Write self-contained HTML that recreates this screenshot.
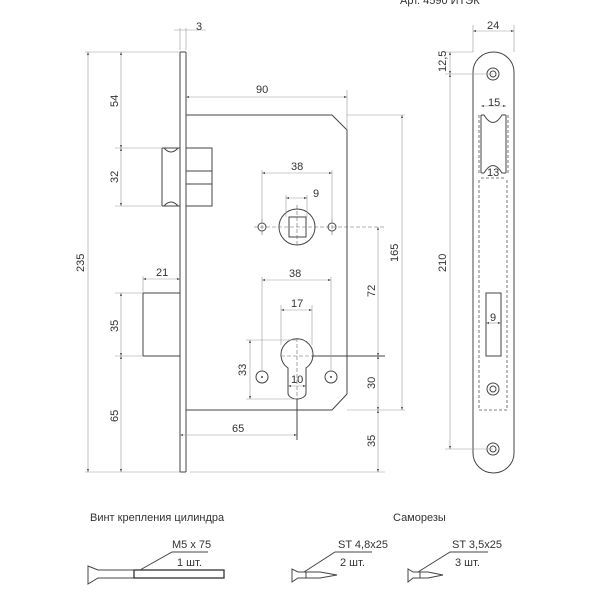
<!DOCTYPE html>
<html><head><meta charset="utf-8"><style>
html,body{margin:0;padding:0;background:#fff}
svg{display:block}
text{font-family:"Liberation Sans",sans-serif;fill:#333;font-size:11px}
.l{stroke:#444;stroke-width:1;fill:none}
.t{stroke:#999;stroke-width:0.6;fill:none}
.d{stroke:#555;stroke-width:0.8;fill:none;stroke-dasharray:3 2}
.c{stroke:#666;stroke-width:0.6;fill:none;stroke-dasharray:4 2}
</style></head><body>
<svg width="600" height="600" viewBox="0 0 600 600">
<defs>
<marker id="a" viewBox="0 0 6 6" refX="6" refY="3" markerWidth="5" markerHeight="5" orient="auto-start-reverse"><path d="M0,1 L6,3 L0,5z" fill="#444"/></marker>
</defs>
<text x="400" y="4" font-size="13">Арт. 4590 ИТЭК</text>
<!-- faceplate side view -->
<path class="l" d="M180,52 L180,472 M186,52 L186,472 M180,52 L186,52 M180,472 L186,472"/>
<line class="t" x1="85" y1="52" x2="180" y2="52"/>
<line class="t" x1="85" y1="472" x2="180" y2="472"/>
<line class="t" x1="190" y1="472" x2="385" y2="472"/>
<!-- 3 dim -->
<path class="t" d="M180,28 L180,50 M186,28 L186,50 M174,30 L206,30"/>
<text x="196" y="30" font-size="8">3</text>
<!-- case -->
<path class="l" d="M186,115 L332,115 L347,130 L347,394 L332,410 L186,410"/>
<path class="t" d="M347,90 L347,130 M347,115 L405,115 M347,410 L405,410"/>
<line class="t" x1="186" y1="97" x2="347" y2="97" marker-start="url(#a)" marker-end="url(#a)"/>
<text x="256" y="93">90</text>
<line class="t" x1="402" y1="115" x2="402" y2="410" marker-start="url(#a)" marker-end="url(#a)"/>
<text transform="translate(398,262) rotate(-90)">165</text>
<!-- latch -->
<path class="l" d="M162,148 L180,148 M162,206 L180,206 M162,148 L162,206"/>
<path class="l" d="M164,148 Q171,156 178,148 M164,206 Q171,198 178,206" stroke-width="0.7"/>
<rect class="l" x="186" y="148" width="26" height="58"/>
<path class="l" d="M186,171 L212,171 M186,184 L212,184"/>
<path class="t" d="M115,148 L162,148 M115,206 L162,206"/>
<line class="t" x1="121" y1="52" x2="121" y2="148" marker-start="url(#a)" marker-end="url(#a)"/>
<line class="t" x1="121" y1="148" x2="121" y2="206" marker-start="url(#a)" marker-end="url(#a)"/>
<text transform="translate(118,107) rotate(-90)">54</text>
<text transform="translate(118,183) rotate(-90)">32</text>
<line class="t" x1="88" y1="52" x2="88" y2="472" marker-start="url(#a)" marker-end="url(#a)"/>
<text transform="translate(84,272) rotate(-90)">235</text>
<!-- upper holes & spindle -->
<circle class="l" cx="262" cy="227" r="4"/>
<circle class="l" cx="332" cy="227" r="4"/>
<circle class="l" cx="297" cy="227" r="18"/>
<rect class="l" x="289" y="217" width="17" height="20"/>
<path class="c" d="M254,227 L385,227 M297,205 L297,245 M262,219 L262,235 M332,219 L332,235"/>
<path class="t" d="M262,170 L262,223 M332,170 L332,223 M286,195 L286,217 M307,195 L307,217"/>
<line class="t" x1="262" y1="173" x2="332" y2="173" marker-start="url(#a)" marker-end="url(#a)"/>
<text x="291" y="170">38</text>
<line class="t" x1="286" y1="198" x2="307" y2="198" marker-start="url(#a)" marker-end="url(#a)"/>
<text x="313" y="197">9</text>
<line class="t" x1="378" y1="227" x2="378" y2="356" marker-start="url(#a)" marker-end="url(#a)"/>
<text transform="translate(375,297) rotate(-90)">72</text>
<!-- lower latch -->
<path class="l" d="M143,293 L180,293 M143,356 L180,356 M143,293 L143,356"/>
<path class="t" d="M115,293 L143,293 M115,356 L143,356 M143,276 L143,293"/>
<line class="t" x1="143" y1="279" x2="180" y2="279" marker-start="url(#a)" marker-end="url(#a)"/>
<text x="156" y="276">21</text>
<line class="t" x1="121" y1="293" x2="121" y2="356" marker-start="url(#a)" marker-end="url(#a)"/>
<line class="t" x1="121" y1="356" x2="121" y2="472" marker-start="url(#a)" marker-end="url(#a)"/>
<text transform="translate(118,332) rotate(-90)">35</text>
<text transform="translate(118,422) rotate(-90)">65</text>
<!-- cylinder -->
<path class="l" d="M288,368 A16,16 0 1 1 306,368 L306,393 A9,6 0 0 1 288,393 Z"/>
<path class="c" d="M281,356 L314,356 M297,338 L297,405"/>
<path class="l" d="M312,356 L385,356" stroke-width="0.8"/>
<circle class="l" cx="262" cy="377" r="6"/>
<circle class="l" cx="331" cy="377" r="6"/>
<circle cx="262" cy="377" r="1" fill="#444"/>
<circle cx="331" cy="377" r="1" fill="#444"/>
<path class="t" d="M262,277 L262,370 M331,277 L331,370 M281,305 L281,345 M312,305 L312,345 M246,340 L297,340 M246,399 L297,399"/>
<line class="t" x1="262" y1="280" x2="331" y2="280" marker-start="url(#a)" marker-end="url(#a)"/>
<text x="289" y="277">38</text>
<line class="t" x1="281" y1="310" x2="312" y2="310" marker-start="url(#a)" marker-end="url(#a)"/>
<text x="291" y="307">17</text>
<line class="t" x1="288" y1="386" x2="306" y2="386" marker-start="url(#a)" marker-end="url(#a)"/>
<text x="291" y="383">10</text>
<line class="t" x1="250" y1="340" x2="250" y2="399" marker-start="url(#a)" marker-end="url(#a)"/>
<text transform="translate(246,376) rotate(-90)">33</text>
<line class="t" x1="378" y1="356" x2="378" y2="410" marker-start="url(#a)" marker-end="url(#a)"/>
<line class="t" x1="378" y1="410" x2="378" y2="472" marker-start="url(#a)" marker-end="url(#a)"/>
<text transform="translate(375,389) rotate(-90)">30</text>
<text transform="translate(375,447) rotate(-90)">35</text>
<line class="l" x1="297" y1="399" x2="297" y2="440" stroke-width="0.8"/>
<line class="t" x1="180" y1="435" x2="297" y2="435" marker-start="url(#a)" marker-end="url(#a)"/>
<text x="232" y="432">65</text>
<!-- front faceplate -->
<rect class="l" x="473" y="52" width="41" height="421" rx="20.5" ry="20"/>
<g class="l">
<circle cx="493" cy="74" r="6"/><circle cx="493" cy="74" r="3"/>
<circle cx="493" cy="389" r="6"/><circle cx="493" cy="389" r="3"/>
<circle cx="493" cy="449" r="6"/><circle cx="493" cy="449" r="3"/>
</g>
<path class="l" d="M481,115 L481,173 M506,115 L506,173 M481,115 L484,115 Q493,130 502,115 L506,115 M481,173 L484,173 Q493,158 502,173 L506,173" stroke-width="0.8"/>
<path class="d" d="M479,115 L479,173 M508,115 L508,173 M479,180 L479,410 L507,410 L507,180 M481,178 L505,178"/>
<rect class="l" x="486" y="293" width="15" height="63"/>
<line class="t" x1="486" y1="323" x2="501" y2="323" marker-start="url(#a)" marker-end="url(#a)"/>
<text x="490" y="321">9</text>
<line class="t" x1="481" y1="106" x2="506" y2="106" marker-start="url(#a)" marker-end="url(#a)"/>
<text x="488" y="106">15</text>
<text x="487" y="176">13</text>
<path class="t" d="M473,25 L473,52 M514,25 L514,52 M445,52 L473,52 M445,74 L493,74 M445,449 L493,449"/>
<line class="t" x1="473" y1="31" x2="514" y2="31" marker-start="url(#a)" marker-end="url(#a)"/>
<text x="487" y="29">24</text>
<line class="t" x1="450" y1="52" x2="450" y2="74" marker-start="url(#a)" marker-end="url(#a)"/>
<text transform="translate(446,72) rotate(-90)" font-size="10">12,5</text>
<line class="t" x1="450" y1="74" x2="450" y2="449" marker-start="url(#a)" marker-end="url(#a)"/>
<text transform="translate(446,272) rotate(-90)">210</text>
<!-- bottom -->
<text x="90" y="521">Винт крепления цилиндра</text>
<text x="393" y="521">Саморезы</text>
<path class="l" d="M88,566 L88,584 L98,578 L224,578 L224,570 L98,570 Z M134,570 L134,578" stroke-width="0.8"/>
<rect x="134" y="570" width="90" height="8" fill="none" stroke="#333" stroke-width="1.3"/>
<path class="l" d="M140,570 L172,552 L208,552" stroke-width="0.7"/>
<text x="172" y="548">M5 x 75</text>
<text x="177" y="566">1 шт.</text>
<path class="l" d="M292,569 L292,582 L298,578 L320,578 L337,575 L320,572 L298,572 Z M306,572 L306,578" stroke-width="0.8"/>
<path class="l" d="M304,572 L335,552 L372,552" stroke-width="0.7"/>
<text x="338" y="548">ST 4,8x25</text>
<text x="340" y="566">2 шт.</text>
<path class="l" d="M408,569 L408,582 L413,578 L428,578 L443,575 L428,572 L413,572 Z M420,572 L420,578" stroke-width="0.8"/>
<path class="l" d="M418,572 L450,552 L488,552" stroke-width="0.7"/>
<text x="452" y="548">ST 3,5x25</text>
<text x="455" y="566">3 шт.</text>
</svg>
</body></html>
